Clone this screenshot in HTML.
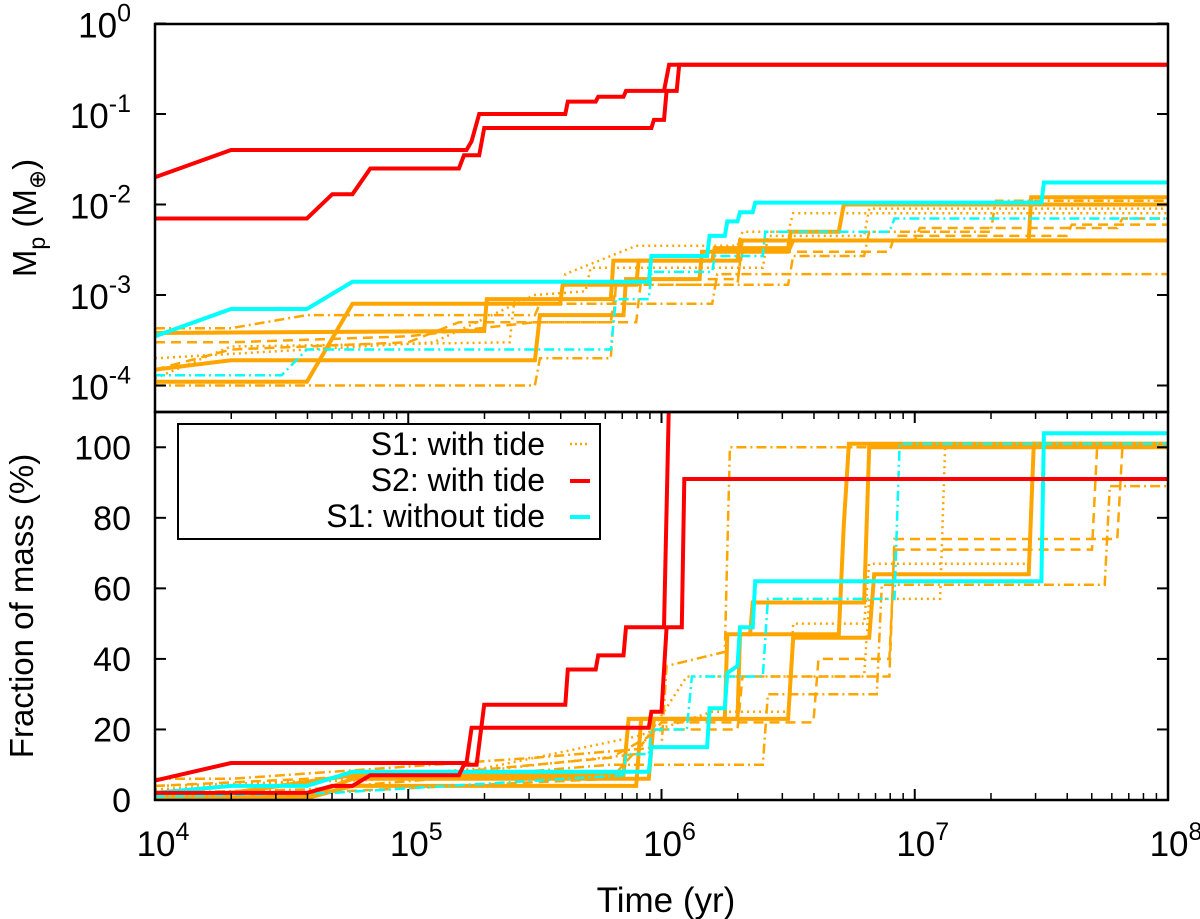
<!DOCTYPE html>
<html><head><meta charset="utf-8">
<style>
html,body{margin:0;padding:0;background:#fff;}
svg{display:block;font-family:"Liberation Sans",sans-serif;}
</style></head>
<body>
<svg id="chart" width="1200" height="919" viewBox="0 0 1200 919" xmlns="http://www.w3.org/2000/svg">
<defs>
<clipPath id="clipTop"><rect x="155" y="24" width="1013" height="388"/></clipPath>
<clipPath id="clipBot"><rect x="155" y="412" width="1013" height="388"/></clipPath>
</defs>
<g id="topSeries" clip-path="url(#clipTop)"></g>
<g id="botSeries" clip-path="url(#clipBot)"></g>
<g id="axes"></g>
<text transform="translate(36,218) rotate(-90)" text-anchor="middle" font-size="33">M<tspan font-size="23" dy="9">p</tspan><tspan dy="-9"> (M</tspan><tspan font-size="23" dy="9">⊕</tspan><tspan dy="-9">)</tspan></text>
<text transform="translate(33,606) rotate(-90)" text-anchor="middle" font-size="33">Fraction of mass (%)</text>
<text x="666" y="912" text-anchor="middle" font-size="35">Time (yr)</text>
<g>
<rect x="178" y="424" width="422" height="115" fill="#fff" stroke="#000" stroke-width="2"/>
<text x="545" y="455" text-anchor="end" font-size="32">S1: with tide</text>
<line x1="570" y1="444" x2="590" y2="444" stroke="#FFA500" stroke-width="2.5" stroke-dasharray="2,3"/>
<text x="545" y="491" text-anchor="end" font-size="32">S2: with tide</text>
<line x1="570" y1="481" x2="590" y2="481" stroke="#FF0000" stroke-width="4"/>
<text x="545" y="527" text-anchor="end" font-size="32">S1: without tide</text>
<line x1="570" y1="517" x2="590" y2="517" stroke="#00FFFF" stroke-width="4"/>
</g>
</svg>
<script>
// ---- data (log10 time in yr, value) ----
const xTickExps = [4,5,6,7,8];
const topTickExps = [0,-1,-2,-3,-4];
const botTicks = [0,20,40,60,80,100];

// Top panel: planet mass (Earth masses)
const topRed1 = [[4,0.02],[4.3,0.04],[5.23,0.04],[5.25,0.05],[5.28,0.1],[5.62,0.1],[5.63,0.137],[5.74,0.137],[5.75,0.155],[5.85,0.155],[5.86,0.18],[6.01,0.18],[6.03,0.35],[8,0.35]];
const topRed2 = [[4,0.007],[4.6,0.007],[4.7,0.013],[4.78,0.013],[4.85,0.025],[5.2,0.025],[5.22,0.035],[5.28,0.035],[5.3,0.07],[5.96,0.07],[5.97,0.086],[6.01,0.086],[6.02,0.18],[6.06,0.18],[6.07,0.35],[8,0.35]];
const topCyan1 = [[4,3.5e-4],[4.3,7e-4],[4.6,7e-4],[4.78,1.4e-3],[5.95,1.4e-3],[5.96,2.7e-3],[6.18,2.7e-3],[6.19,4.5e-3],[6.25,4.5e-3],[6.26,6.5e-3],[6.3,6.5e-3],[6.31,8.2e-3],[6.36,8.2e-3],[6.37,1.05e-2],[7.5,1.05e-2],[7.51,1.75e-2],[8,1.75e-2]];
const topCyan2 = [[4,1.3e-4],[4.5,1.3e-4],[4.6,2.5e-4],[5.8,2.5e-4],[5.82,9e-4],[5.95,9e-4],[5.96,1.8e-3],[6.2,1.8e-3],[6.21,2.7e-3],[6.4,2.7e-3],[6.41,5e-3],[6.9,5e-3],[6.92,7e-3],[8,7e-3]];
const topOrA = [[4,1.1e-4],[4.6,1.1e-4],[4.78,8e-4],[5.6,8e-4],[5.61,1.3e-3],[5.9,1.3e-3],[5.91,2.4e-3],[6.2,2.4e-3],[6.21,3.3e-3],[6.5,3.3e-3],[6.51,5e-3],[6.7,5e-3],[6.72,1e-2],[8,1e-2]];
const topOrB = [[4,1.5e-4],[4.3,1.9e-4],[5.5,1.9e-4],[5.52,6e-4],[5.85,6e-4],[5.86,1.5e-3],[6.15,1.5e-3],[6.16,3e-3],[6.5,3e-3],[6.52,4e-3],[8,4e-3]];
const topOrC = [[4,3.8e-4],[5.3,4e-4],[5.31,9e-4],[5.8,9e-4],[5.81,2.4e-3],[6.3,2.4e-3],[6.31,4e-3],[7.45,4e-3],[7.46,1.2e-2],[8,1.2e-2]];
const topOrD = [[4,1.5e-4],[4.3,2.5e-4],[5,3e-4],[5.2,5e-4],[5.8,5e-4],[5.82,1.3e-3],[6.3,1.3e-3],[6.32,4e-3],[7,4e-3],[7.02,5.5e-3],[7.8,5.5e-3],[7.82,7e-3],[8,7e-3]];
const topOrE = [[4,1.2e-4],[4.3,2.7e-4],[5.4,3e-4],[5.42,9e-4],[5.6,9e-4],[5.62,1.7e-3],[5.9,3.5e-3],[6.3,3.5e-3],[6.32,5e-3],[6.5,5e-3],[6.52,8e-3],[8,8e-3]];
const topOrF = [[4,4.3e-4],[4.3,4.3e-4],[4.6,6e-4],[5.5,6e-4],[5.52,8e-4],[6.2,8e-4],[6.22,1.7e-3],[8,1.7e-3]];
const topOrG = [[4,1e-4],[5.5,1e-4],[5.52,2e-4],[5.8,2e-4],[5.82,1.3e-3],[6.5,1.3e-3],[6.52,2.7e-3],[6.8,2.7e-3],[6.82,5e-3],[7.3,5e-3],[7.32,1.1e-2],[8,1.1e-2]];
const topOrH = [[4,3e-4],[4.3,3e-4],[5,3.5e-4],[5.5,5e-4],[5.9,5e-4],[5.92,1.5e-3],[6.3,1.5e-3],[6.32,3e-3],[6.9,3e-3],[6.92,4.5e-3],[7.6,4.5e-3],[7.62,6e-3],[8,6e-3]];
const topOrI = [[4,2e-4],[4.6,2.5e-4],[5.1,3e-4],[5.5,1e-3],[5.7,1.1e-3],[5.72,2e-3],[6.4,2e-3],[6.42,4.5e-3],[6.8,4.5e-3],[6.82,9e-3],[8,9e-3]];

// Bottom panel: fraction of mass (%)
const botRed1 = [[4,5.5],[4.3,10.5],[5.23,10.5],[5.25,20.5],[5.95,20.5],[5.96,25],[6.0,25],[6.02,49],[6.08,49],[6.09,91],[8,91]];
const botRed2 = [[4,2],[4.6,2],[4.7,4],[4.78,4],[4.85,7],[5.2,7],[5.22,10],[5.27,10],[5.3,27],[5.62,27],[5.63,37],[5.74,37],[5.75,41],[5.85,41],[5.86,49],[6.01,49],[6.03,115]];
const botCyan1 = [[4,2],[4.3,4],[4.6,4],[4.78,8],[5.95,8],[5.96,15],[6.18,15],[6.19,26],[6.25,26],[6.26,36],[6.3,38],[6.31,49],[6.36,49],[6.37,62],[7.5,62],[7.51,104],[8,104]];
const botCyan2 = [[4,1],[4.7,2],[5.85,7],[5.86,13],[5.95,13],[5.96,20],[6.1,20],[6.12,35],[6.4,35],[6.42,57],[6.92,57],[6.94,101],[8,101]];
const botOrA = [[4,0.5],[4.6,0.5],[4.78,4],[5.9,4],[5.92,23],[6.25,23],[6.26,47],[6.7,47],[6.72,78],[6.74,101],[8,101]];
const botOrB = [[4,1],[4.3,2],[4.78,7],[5.85,7],[5.87,23],[6.5,23],[6.52,46],[6.82,46],[6.84,64],[7.45,64],[7.47,101],[8,101]];
const botOrC = [[4,0.5],[4.6,1],[4.78,6],[5.95,6],[5.97,23],[6.3,23],[6.31,47],[6.35,47],[6.36,56],[6.8,56],[6.82,100],[8,100]];
const botOrD = [[4,4],[4.3,5],[5.2,8],[5.8,12],[6,20],[6.3,20],[6.32,35],[6.9,35],[6.92,74],[7.8,74],[7.82,100],[8,100]];
const botOrE = [[4,3],[4.3,4],[5.3,9],[5.9,18],[6.2,25],[6.5,25],[6.52,50],[6.8,50],[6.82,67],[7.45,67],[7.47,101],[8,101]];
const botOrF = [[4,6],[4.3,6],[5.5,12],[6.0,15],[6.02,38],[6.25,42],[6.27,100],[8,100]];
const botOrG = [[4,2],[4.6,3],[5.8,10],[6.4,10],[6.42,30],[6.85,30],[6.87,61],[7.75,61],[7.77,89],[8,89]];
const botOrH = [[4,1],[4.6,2],[5.8,6],[6.0,22],[6.6,22],[6.62,40],[6.9,40],[6.92,71],[7.7,71],[7.72,100],[8,100]];
const botOrI = [[4,4],[5,6],[5.9,13],[6.1,35],[6.8,35],[6.82,57],[7.1,57],[7.12,100],[8,100]];

// ---- scales ----
const X0=155, X1=1168, TOP0=24, TOP1=412, BOT0=412, BOT1=800;
function xs(lt){ return X0 + (lt-4)/4*(X1-X0); }
function yTop(m){ return 23.5 - Math.log10(m)*90.5; }
function yBot(f){ return 800 - f*(800-412)/110; }

const NS="http://www.w3.org/2000/svg";
const OR="#FFA500", RD="#FF0000", CY="#00FFFF";
const SOLID=null, DASH="10,6", DOT="2,4", DASHDOT="10,4,2,4";

function drawSeries(g, pts, yf, color, width, dash, name){
  const p=document.createElementNS(NS,"polyline");
  
  
  p.setAttribute("points", pts.map(d=>xs(d[0]).toFixed(1)+","+yf(d[1]).toFixed(1)).join(" "));
  p.setAttribute("fill","none");
  p.setAttribute("stroke",color);
  p.setAttribute("stroke-width",width);
  p.setAttribute("stroke-linejoin","miter");
  if(dash) p.setAttribute("stroke-dasharray",dash);
  g.appendChild(p);
}

const gt=document.getElementById("topSeries");
const gb=document.getElementById("botSeries");
const orTop=[[topOrA,4,SOLID],[topOrB,4,SOLID],[topOrC,4,SOLID],[topOrD,2.5,DASH],[topOrE,2.5,DOT],[topOrF,2.5,DASHDOT],[topOrG,2.5,DASHDOT],[topOrH,2.5,DASH],[topOrI,2.5,DOT]];
orTop.forEach((s,i)=>drawSeries(gt,s[0],yTop,OR,s[1],s[2],"top-orange-series-"+(i+1)));
drawSeries(gt,topCyan2,yTop,CY,2.5,DASHDOT,"top-cyan-dashdot-series");
drawSeries(gt,topCyan1,yTop,CY,4,SOLID,"top-cyan-series");
drawSeries(gt,topRed1,yTop,RD,4,SOLID,"top-red-series-1");
drawSeries(gt,topRed2,yTop,RD,4,SOLID,"top-red-series-2");

const orBot=[[botOrA,4,SOLID],[botOrB,4,SOLID],[botOrC,4,SOLID],[botOrD,2.5,DASH],[botOrE,2.5,DOT],[botOrF,2.5,DASHDOT],[botOrG,2.5,DASHDOT],[botOrH,2.5,DASH],[botOrI,2.5,DOT]];
orBot.forEach((s,i)=>drawSeries(gb,s[0],yBot,OR,s[1],s[2],"bottom-orange-series-"+(i+1)));
drawSeries(gb,botCyan2,yBot,CY,2.5,DASHDOT,"bottom-cyan-dashdot-series");
drawSeries(gb,botCyan1,yBot,CY,4,SOLID,"bottom-cyan-series");
drawSeries(gb,botRed1,yBot,RD,4,SOLID,"bottom-red-series-1");
drawSeries(gb,botRed2,yBot,RD,4,SOLID,"bottom-red-series-2");

// ---- axes ----
const ga=document.getElementById("axes");
function line(x1,y1,x2,y2,name,w){
  const l=document.createElementNS(NS,"line");
  
  
  l.setAttribute("x1",x1);l.setAttribute("y1",y1);l.setAttribute("x2",x2);l.setAttribute("y2",y2);
  l.setAttribute("stroke","#000");l.setAttribute("stroke-width",w||2);
  ga.appendChild(l);
}
function rect(x,y,w,h,name){
  const r=document.createElementNS(NS,"rect");
  
  
  r.setAttribute("x",x);r.setAttribute("y",y);r.setAttribute("width",w);r.setAttribute("height",h);
  r.setAttribute("fill","none");r.setAttribute("stroke","#000");r.setAttribute("stroke-width",2.5);
  ga.appendChild(r);
}
rect(X0,TOP0,X1-X0,TOP1-TOP0,"top-panel-frame");
rect(X0,BOT0,X1-X0,BOT1-BOT0,"bottom-panel-frame");

function powLabel(x,y,exp,anchor,name){
  const t=document.createElementNS(NS,"text");
  
  
  t.setAttribute("x",x);t.setAttribute("y",y);t.setAttribute("text-anchor",anchor);
  t.setAttribute("font-size","35");
  t.innerHTML='10<tspan font-size="25" dy="-16">'+exp+'</tspan>';
  ga.appendChild(t);
}
// top y ticks
topTickExps.forEach(e=>{
  const y=yTop(Math.pow(10,e));
  line(X0,y,X0+11,y,"top-y-tick");
  line(X1-11,y,X1,y,"top-y-tick-right");
  powLabel(131,y+14,String(e),"end","top-y-tick-label");
});
// bottom y ticks
botTicks.forEach(v=>{
  const y=yBot(v);
  line(X0,y,X0+11,y,"bottom-y-tick");
  line(X1-11,y,X1,y,"bottom-y-tick-right");
  const t=document.createElementNS(NS,"text");
  
  
  t.setAttribute("x",131);t.setAttribute("y",y+12);t.setAttribute("text-anchor","end");t.setAttribute("font-size","34");
  t.textContent=v;
  ga.appendChild(t);
});
// x ticks (major + minor), on bottom axis and top of bottom panel
xTickExps.forEach((e,i)=>{
  const x=xs(e);
  line(x,BOT1,x,BOT1-11,"x-major-tick");
  line(x,BOT0,x,BOT0+11,"x-major-tick-top");
  powLabel(x+8,856,e,"middle","x-tick-label");
  if(i<xTickExps.length-1){
    for(let k=2;k<=9;k++){
      const xm=xs(e+Math.log10(k));
      line(xm,BOT1,xm,BOT1-7,"x-minor-tick",1.5);
      line(xm,BOT0,xm,BOT0+7,"x-minor-tick-top",1.5);
    }
  }
});
</script>
</body></html>
